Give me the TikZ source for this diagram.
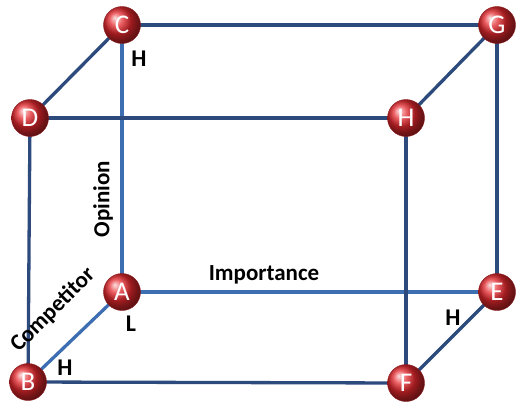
\documentclass[tikz,border=0pt]{standalone}
\usepackage{fontspec}
\setmainfont{Carlito}
\definecolor{edgeblue}{RGB}{44,74,124}
\definecolor{backblue}{RGB}{62,110,178}
\definecolor{ballred}{RGB}{228,40,45}
\usetikzlibrary{shadings}

\begin{document}
\begin{tikzpicture}[x=1pt,y=-1pt,
  corner/.style={circle,shading=ball,ball color=ballred,draw=ballred!60!black,thin,
              minimum size=37pt,inner sep=0pt,text=white,font=\fontsize{27}{27}\selectfont},
  edge/.style={edgeblue,line width=3.3pt},
  back/.style={backblue,line width=3.3pt},
  lbl/.style={font=\bfseries\fontsize{24}{24}\selectfont,text=black},
  axis/.style={font=\bfseries\fontsize{23}{23}\selectfont,text=black}]
  \useasboundingbox (0,0) rectangle (524,413);
  % hidden edges first
  \coordinate (a) at (122,292);
  \coordinate (b) at (28,382);
  \coordinate (c) at (122,25);
  \coordinate (e) at (497,292);
  \draw[back] (a) -- (c);
  \draw[back] (a) -- (e);
  \draw[back] (a) -- (b);
  % visible edges
  \draw[edge] (c) -- (497,25) coordinate (g);
  \draw[edge] (c) -- (30,118) coordinate (d);
  \draw[edge] (d) -- (406,118) coordinate (h);
  \draw[edge] (d) -- (b);
  \draw[edge] (h) -- (g);
  \draw[edge] (g) -- (e);
  \draw[edge] (h) -- (406,383) coordinate (f);
  \draw[edge] (b) -- (f);
  \draw[edge] (f) -- (e);
  % corners
  \node[corner] (A) at (a) {A};
  \node[corner] (B) at (b) {B};
  \node[corner] (C) at (c) {C};
  \node[corner] (D) at (d) {D};
  \node[corner] (E) at (e) {E};
  \node[corner] (F) at (f) {F};
  \node[corner] (G) at (g) {G};
  \node[corner] (H) at (h) {H};
  % axis labels
  \node[axis,rotate=90] (opinion) at (103,199) {Opinion};
  \node[axis] (importance) at (264,275) {Importance};
  \node[axis,rotate=45] (competitor) at (53,310) {Competitor};
  \node[lbl] (chigh) at (139,59) {H};
  \node[lbl] (alow) at (131,324) {L};
  \node[lbl] (bhigh) at (65,368) {H};
  \node[lbl] (ehigh) at (453,318) {H};
\end{tikzpicture}
\end{document}
